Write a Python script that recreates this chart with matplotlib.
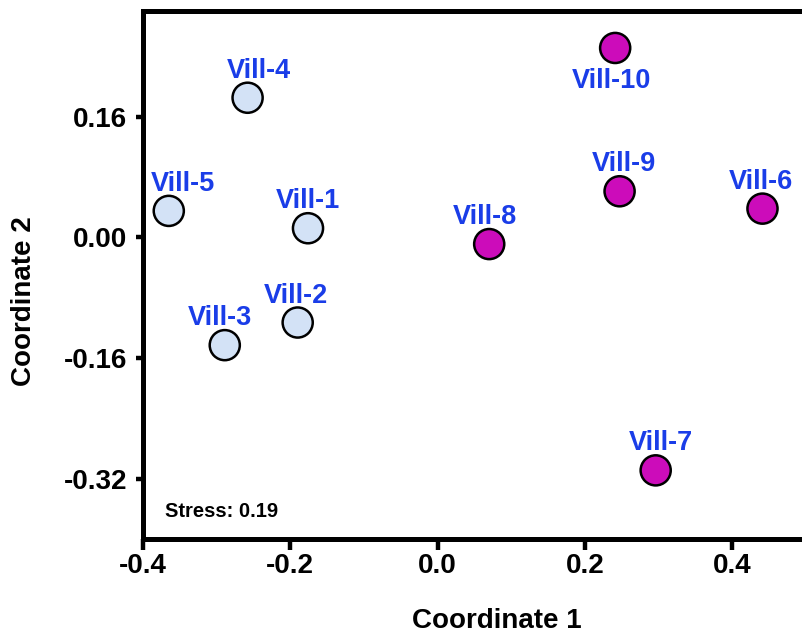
import numpy as np
import matplotlib.pyplot as plt

# NMDS coordinates
villages = ['Vill-1', 'Vill-2', 'Vill-3', 'Vill-4', 'Vill-5',
            'Vill-6', 'Vill-7', 'Vill-8', 'Vill-9', 'Vill-10']
coord1 = [-0.176, -0.190, -0.289, -0.258, -0.365,
          0.441, 0.296, 0.070, 0.247, 0.241]
coord2 = [0.012, -0.113, -0.143, 0.185, 0.035,
          0.038, -0.309, -0.009, 0.061, 0.251]
group = [0, 0, 0, 0, 0, 1, 1, 1, 1, 1]

x_ticks = [-0.4, -0.2, 0.0, 0.2, 0.4]
x_tick_labels = ['-0.4', '-0.2', '0.0', '0.2', '0.4']
y_ticks = [-0.32, -0.16, 0.0, 0.16]
y_tick_labels = ['-0.32', '-0.16', '0.00', '0.16']
stress = 0.19

# label placement (offset in px from point, label below point?)
label_dx = [0, -2, -5, 11, 14, -2, 5, -4, 4, -4]
label_below = [False] * 9 + [True]

plt.rcParams['font.family'] = ['Liberation Sans', 'DejaVu Sans']
plt.rcParams['font.weight'] = 'bold'

fill_colors = ['#d3e2f6', '#cc0cba']
label_color = '#1a3de8'

fig = plt.figure(figsize=(8.03, 6.37), dpi=100)
ax = fig.add_axes([143 / 803, 1 - 539 / 637, 660 / 803, 528 / 637])

colors = [fill_colors[g] for g in group]
ax.scatter(coord1, coord2, s=470, c=colors, edgecolors='black',
           linewidths=1.8, zorder=3)

for name, x, y, dx, below in zip(villages, coord1, coord2, label_dx, label_below):
    if below:
        ax.annotate(name, (x, y), xytext=(dx * 0.72, -14.4), textcoords='offset points',
                    ha='center', va='top', fontsize=19.5, fontweight='bold', color=label_color)
    else:
        ax.annotate(name, (x, y), xytext=(dx * 0.72, 14.4), textcoords='offset points',
                    ha='center', va='baseline', fontsize=19.5, fontweight='bold', color=label_color)

ax.set_xlim(-0.4, 0.496)
ax.set_ylim(-0.4, 0.3)

ax.set_xticks(x_ticks)
ax.set_xticklabels(x_tick_labels)
ax.set_yticks(y_ticks)
ax.set_yticklabels(y_tick_labels)

for side in ['left', 'bottom', 'top']:
    ax.spines[side].set_linewidth(3.6)
    ax.spines[side].set_color('black')
ax.spines['right'].set_linewidth(1.0)
ax.spines['right'].set_color('#999999')

ax.tick_params(axis='x', length=8, width=3.2, pad=2, labelsize=20)
ax.tick_params(axis='y', length=5, width=3.2, pad=6.5, labelsize=20)

ax.set_xlabel('Coordinate 1', fontsize=20, fontweight='bold')
ax.set_ylabel('Coordinate 2', fontsize=20, fontweight='bold')
ax.xaxis.set_label_coords(0.536, -0.13)
ax.yaxis.set_label_coords(-0.16, 0.451)

ax.text(0.033, 0.042, f'Stress: {stress:.2f}', transform=ax.transAxes,
        fontsize=14.5, fontweight='bold', ha='left', va='baseline')

fig.savefig('out.png', dpi=100)
